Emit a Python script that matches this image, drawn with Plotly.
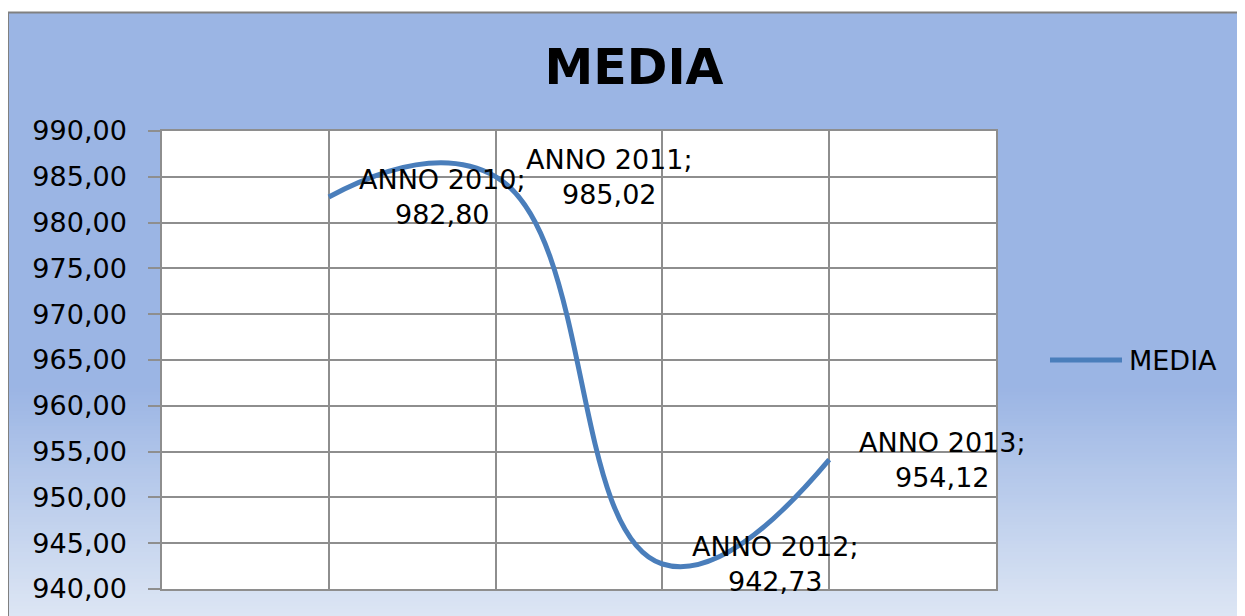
import plotly.graph_objects as go

# ---- data ----
categories = ["ANNO 2010", "ANNO 2011", "ANNO 2012", "ANNO 2013"]
media = [982.80, 985.02, 942.73, 954.12]
series_name = "MEDIA"
title_text = "MEDIA"

# page offset (browser body margin)
OX, OY = 8, 8
W, H = 1245 - OX, 616 - OY
L, R, T, B = 162 - OX, 249, 131 - OY, 25
PW, PH = W - L - R, H - T - B

def px_x(px):
    return (px - OX - L) / PW

def px_y(py):
    return (H - B - (py - OY)) / PH

line_color = "#4A7EBB"
grid_color = "#8E8E8E"
font_family = "DejaVu Sans"
fs = 27

fig = go.Figure()
fig.add_trace(go.Scatter(
    x=categories, y=media, mode="lines", name=series_name,
    line=dict(color=line_color, width=5, shape="spline", smoothing=1.3),
    showlegend=False,
))

shapes = []
top_c = (155, 181, 228)
bot_c = (221, 230, 244)
shapes.append(dict(type="rect", xref="paper", yref="paper",
                   x0=px_x(8), x1=px_x(1300), y0=px_y(390), y1=px_y(12),
                   fillcolor="rgb(%d,%d,%d)" % top_c, line=dict(width=0), layer="below"))
g0, g1 = 390, 620
n = 60
for i in range(n):
    y_a = g0 + (g1 - g0) * i / n
    y_b = g0 + (g1 - g0) * (i + 1) / n
    t = (i + 0.5) / n
    c = tuple(round(top_c[k] + (bot_c[k] - top_c[k]) * t) for k in range(3))
    shapes.append(dict(type="rect", xref="paper", yref="paper",
                       x0=px_x(8), x1=px_x(1300), y0=px_y(y_b), y1=px_y(y_a) + 0.002,
                       fillcolor="rgb(%d,%d,%d)" % c, line=dict(width=0), layer="below"))
shapes.append(dict(type="rect", xref="paper", yref="paper",
                   x0=px_x(8), x1=px_x(1300), y0=px_y(640), y1=px_y(12),
                   fillcolor="rgba(0,0,0,0)", line=dict(color="#808080", width=2), layer="below"))
shapes.append(dict(type="rect", xref="paper", yref="paper", x0=0, x1=1, y0=0, y1=1,
                   fillcolor="white", line=dict(width=0), layer="below"))
shapes.append(dict(type="line", xref="paper", yref="paper",
                   x0=px_x(1050), x1=px_x(1122), y0=px_y(361), y1=px_y(361),
                   line=dict(color=line_color, width=5), layer="above"))

annotations = []
for c, v in zip(categories, media):
    label = f"{c};<br>{v:.2f}".replace(".", ",")
    annotations.append(dict(x=c, y=v, xref="x", yref="y", text=label, showarrow=False,
                            xanchor="left", yanchor="middle", xshift=28, align="center",
                            font=dict(family=font_family, size=fs, color="black")))
annotations.append(dict(x=px_x(1127), y=px_y(361), xref="paper", yref="paper",
                        text=series_name, showarrow=False, xanchor="left", yanchor="middle",
                        font=dict(family=font_family, size=fs, color="black")))

fig.update_layout(
    width=W, height=H,
    margin=dict(l=L, r=R, t=T, b=B, pad=0),
    paper_bgcolor="white", plot_bgcolor="white",
    separators=",.",
    title=dict(text="<b>" + title_text + "</b>", x=(634 - OX) / W, xref="container", xanchor="center",
               y=1 - (67 - OY) / H, yref="container", yanchor="middle",
               font=dict(family=font_family, size=49, color="black")),
    shapes=shapes, annotations=annotations,
    xaxis=dict(type="category", range=[-1, 4], showgrid=True, gridcolor=grid_color, gridwidth=1.5,
               showline=True, linecolor=grid_color, linewidth=1.5, mirror=True,
               showticklabels=False, ticks="", zeroline=False, fixedrange=True),
    yaxis=dict(range=[940, 990], dtick=5, tick0=940, tickformat=".2f",
               showgrid=True, gridcolor=grid_color, gridwidth=1.5,
               showline=True, linecolor=grid_color, linewidth=1.5, mirror=True,
               ticks="outside", ticklen=12, tickcolor=grid_color, tickwidth=1.5,
               ticklabelstandoff=16, zeroline=False,
               tickfont=dict(family=font_family, size=fs, color="black")),
)

fig.write_html("out.html")
